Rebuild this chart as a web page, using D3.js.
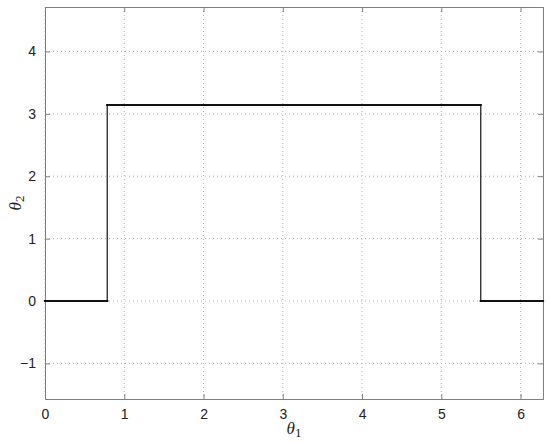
<!DOCTYPE html>
<html>
<head>
<meta charset="utf-8">
<script src="https://cdn.jsdelivr.net/npm/d3@7"></script>
<style>
html,body{margin:0;padding:0;background:#fff;}
</style>
</head>
<body>
<script>
// Data
const theta1 = [0, 0.785, 5.498, 6.283];
const theta2 = [0, 3.1416, 0, 0];
const xTicks = [0, 1, 2, 3, 4, 5, 6];
const yTicks = [-1, 0, 1, 2, 3, 4];
const xDomain = [0, 6.2832];
const yDomain = [-1.5708, 4.7124];

const W = 550, H = 442;
const m = {left: 45, right: 7, top: 7, bottom: 43};
const svg = d3.select("body").append("svg").attr("width", W).attr("height", H);

const x = d3.scaleLinear().domain(xDomain).range([m.left, W - m.right]);
const y = d3.scaleLinear().domain(yDomain).range([H - m.bottom, m.top]);

const axisColor = "#7f7f7f";
const font = "Liberation Sans, Arial, Helvetica, sans-serif";

// Grid
const grid = svg.append("g");
grid.selectAll(".gx").data(xTicks).join("line")
  .attr("x1", d => x(d)).attr("x2", d => x(d))
  .attr("y1", y.range()[1]).attr("y2", y.range()[0])
  .attr("stroke", "#b0b0b0").attr("stroke-width", 1).attr("stroke-dasharray", "1,3");
grid.selectAll(".gy").data(yTicks).join("line")
  .attr("y1", d => y(d)).attr("y2", d => y(d))
  .attr("x1", x.range()[0]).attr("x2", x.range()[1])
  .attr("stroke", "#b0b0b0").attr("stroke-width", 1).attr("stroke-dasharray", "1,3");

// Axes
const tl = 5;
const xAxisB = d3.axisBottom(x).tickValues(xTicks).tickSize(-tl).tickPadding(10).tickFormat(d3.format("d"));
const xAxisT = d3.axisTop(x).tickValues(xTicks).tickSize(-tl).tickFormat("");
const yAxisL = d3.axisLeft(y).tickValues(yTicks).tickSize(-tl).tickPadding(9).tickFormat(d => d < 0 ? "\u2212" + Math.abs(d) : d);
const yAxisR = d3.axisRight(y).tickValues(yTicks).tickSize(-tl).tickFormat("");

function style(g) {
  g.select(".domain").attr("stroke", axisColor);
  g.selectAll(".tick line").attr("stroke", axisColor);
  g.selectAll(".tick text").attr("fill", "#222").attr("font-size", 14).attr("font-family", font);
}
svg.append("g").attr("transform", `translate(0,${y.range()[0]})`).call(xAxisB).call(style);
svg.append("g").attr("transform", `translate(0,${y.range()[1]})`).call(xAxisT).call(style);
svg.append("g").attr("transform", `translate(${x.range()[0]},0)`).call(yAxisL).call(style);
svg.append("g").attr("transform", `translate(${x.range()[1]},0)`).call(yAxisR).call(style);

// Data line: horizontal segments thick, vertical jumps thin
const pts = theta1.map((t, i) => [t, theta2[i]]);
const segs = [];
for (let i = 0; i < pts.length - 1; i++) {
  segs.push({x1: pts[i][0], y1: pts[i][1], x2: pts[i+1][0], y2: pts[i][1], h: true});
  if (pts[i+1][1] !== pts[i][1]) segs.push({x1: pts[i+1][0], y1: pts[i][1], x2: pts[i+1][0], y2: pts[i+1][1], h: false});
}
svg.append("g").selectAll("line").data(segs).join("line")
  .attr("x1", d => x(d.x1)).attr("x2", d => x(d.x2))
  .attr("y1", d => y(d.y1)).attr("y2", d => y(d.y2))
  .attr("stroke", "#111").attr("stroke-width", d => d.h ? 2.2 : 1.2)
  .attr("stroke-linecap", "square");

// Axis labels
const lx = svg.append("text").attr("x", (x.range()[0] + x.range()[1]) / 2).attr("y", 434)
  .attr("text-anchor", "middle").attr("font-family", "Liberation Serif, Times New Roman, serif")
  .attr("font-size", 17).attr("fill", "#222");
lx.append("tspan").attr("font-style", "italic").text("\u03b8");
lx.append("tspan").attr("font-size", 13).attr("dy", 3).text("1");

const ly = svg.append("text").attr("transform", `translate(21,${(y.range()[0] + y.range()[1]) / 2}) rotate(-90)`)
  .attr("text-anchor", "middle").attr("font-family", "Liberation Serif, Times New Roman, serif")
  .attr("font-size", 17).attr("fill", "#222");
ly.append("tspan").attr("font-style", "italic").text("\u03b8");
ly.append("tspan").attr("font-size", 13).attr("dy", 3).text("2");
</script>
</body>
</html>
